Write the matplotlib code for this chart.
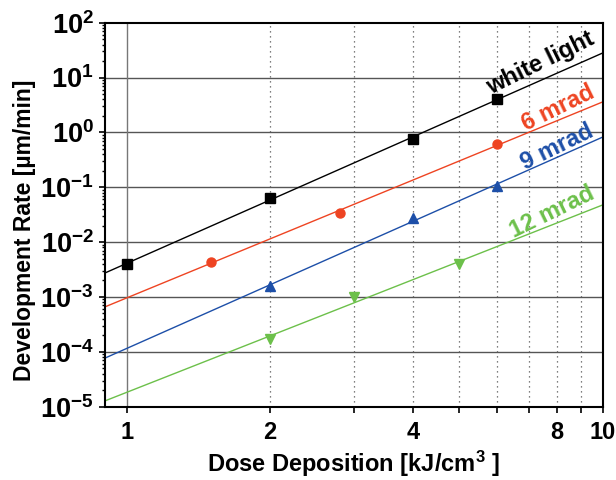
import numpy as np
import matplotlib
matplotlib.use("Agg")
import matplotlib.pyplot as plt
from matplotlib import ticker

plt.rcParams['font.family'] = ['Liberation Sans', 'DejaVu Sans']
plt.rcParams['font.weight'] = 'bold'
plt.rcParams['mathtext.fontset'] = 'custom'
plt.rcParams['mathtext.rm'] = 'Liberation Sans:bold'
plt.rcParams['mathtext.bf'] = 'Liberation Sans:bold'

# measured development rates per exposure condition
white_dose = [1.0, 2.0, 4.0, 6.0]
white_rate = [0.004, 0.063, 0.77, 4.1]

mrad6_dose = [1.5, 2.8, 6.0]
mrad6_rate = [0.0044, 0.0335, 0.615]

mrad9_dose = [2.0, 4.0, 6.0]
mrad9_rate = [0.0016, 0.027, 0.107]

mrad12_dose = [2.0, 3.0, 5.0]
mrad12_rate = [0.00017, 0.001, 0.004]

series = [
    ("white light", white_dose, white_rate, "#000000", "s", (540, 63)),
    ("6 mrad", mrad6_dose, mrad6_rate, "#ee4422", "o", (558, 108)),
    ("9 mrad", mrad9_dose, mrad9_rate, "#1d4fa8", "^", (557, 147)),
    ("12 mrad", mrad12_dose, mrad12_rate, "#6cc04a", "v", (552, 212)),
]

xlim = (0.9, 10)
ylim = (1e-5, 1e2)

fig = plt.figure(figsize=(6.16, 4.8), dpi=100)
ax = fig.add_axes([105 / 616, 1 - 406.7 / 480, 497.7 / 616, 384 / 480])
ax.set_xscale("log")
ax.set_yscale("log")
ax.set_xlim(*xlim)
ax.set_ylim(*ylim)

# grid: solid horizontal decades, solid at x=1, dotted at 2..9
for e in range(-4, 2):
    ax.axhline(10.0 ** e, color="#555555", lw=1.0, zorder=0)
ax.axvline(1, color="#777777", lw=1.0, zorder=0)
for xv in range(2, 10):
    ax.axvline(xv, color="#555555", lw=0.9, ls=(0, (1, 3)), zorder=0)

xfit = np.logspace(np.log10(xlim[0]), np.log10(xlim[1]), 50)
for label, xs, ys, color, marker, (tx, ty) in series:
    # power-law fit in log-log space
    k, b = np.polyfit(np.log10(xs), np.log10(ys), 1)
    ax.plot(xfit, 10 ** (b + k * np.log10(xfit)), color=color, lw=1.0, zorder=2)
    ax.plot(xs, ys, ls="none", marker=marker, color=color, ms=6.5, zorder=3)
    fig.text(tx / 616, 1 - ty / 480, label, color=color, fontsize=17,
             fontweight="bold", rotation=26, ha="center", va="center")

ax.xaxis.set_major_locator(ticker.FixedLocator(list(range(1, 11))))
ax.xaxis.set_minor_locator(ticker.NullLocator())
xlabels = {1: "1", 2: "2", 4: "4", 8: "8", 10: "10"}
ax.xaxis.set_major_formatter(ticker.FuncFormatter(lambda v, p: xlabels.get(int(round(v)), "")))

ax.yaxis.set_major_locator(ticker.LogLocator(base=10, numticks=20))
ax.yaxis.set_minor_locator(ticker.LogLocator(base=10, subs=np.arange(2, 10), numticks=20))
ax.yaxis.set_minor_formatter(ticker.NullFormatter())
ax.yaxis.set_major_formatter(ticker.FuncFormatter(
    lambda v, p: r"$\mathbf{10^{%d}}$" % int(round(np.log10(v)))))

ax.tick_params(axis="both", which="major", direction="out", length=4, width=1.2,
               colors="black")
ax.tick_params(axis="x", which="major", labelsize=17, pad=6)
ax.tick_params(axis="y", which="major", labelsize=19.5, pad=4)
ax.tick_params(axis="y", which="minor", direction="out", length=2.5, width=1.0)
for sp in ax.spines.values():
    sp.set_linewidth(1.5)
    sp.set_color("black")

ax.set_xlabel("Dose Deposition [kJ/cm$\\mathbf{^3}$ ]", fontsize=17, fontweight="bold")
ax.set_ylabel("Development Rate [µm/min]", fontsize=16.5, fontweight="bold")
ax.xaxis.set_label_coords(0.5, -(464 - 406.7) / 384)
ax.xaxis.label.set_va("center")
ax.yaxis.set_label_coords(-0.161, 0.46)
ax.yaxis.label.set_va("center")

fig.savefig("out.png", dpi=100)
